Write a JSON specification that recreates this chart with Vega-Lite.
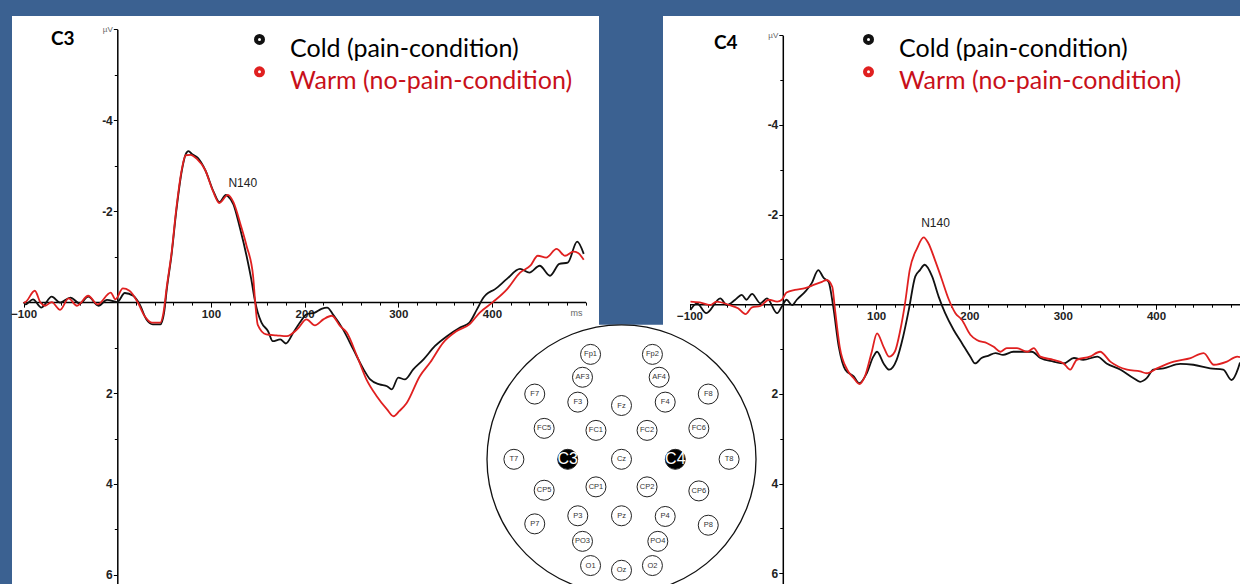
{
  "$schema": "https://vega.github.io/schema/vega-lite/v6.json",
  "background": "#3b6191",
  "padding": {"left": 10, "top": 16, "right": 0, "bottom": 0},
  "bounds": "flush",
  "spacing": 64,
  "config": {"view": {"stroke": null, "fill": "#ffffff"}, "font": "Liberation Sans"},
  "datasets": {
    "c3": [
      {"condition":"Cold (pain-condition)","t":-100,"v":0},{"condition":"Cold (pain-condition)","t":-98,"v":0.05},{"condition":"Cold (pain-condition)","t":-90,"v":-0.06},{"condition":"Cold (pain-condition)","t":-81,"v":0.12},{"condition":"Cold (pain-condition)","t":-70,"v":-0.12},{"condition":"Cold (pain-condition)","t":-61,"v":0.01},{"condition":"Cold (pain-condition)","t":-50,"v":-0.1},{"condition":"Cold (pain-condition)","t":-40,"v":0.03},{"condition":"Cold (pain-condition)","t":-31,"v":-0.12},{"condition":"Cold (pain-condition)","t":-20,"v":0.08},{"condition":"Cold (pain-condition)","t":-11,"v":-0.05},{"condition":"Cold (pain-condition)","t":0,"v":0},{"condition":"Cold (pain-condition)","t":8,"v":-0.2},{"condition":"Cold (pain-condition)","t":17,"v":-0.14},{"condition":"Cold (pain-condition)","t":24,"v":0.05},{"condition":"Cold (pain-condition)","t":31,"v":0.38},{"condition":"Cold (pain-condition)","t":38,"v":0.49},{"condition":"Cold (pain-condition)","t":46,"v":0.49},{"condition":"Cold (pain-condition)","t":50,"v":0.23},{"condition":"Cold (pain-condition)","t":53,"v":-0.3},{"condition":"Cold (pain-condition)","t":58,"v":-1.05},{"condition":"Cold (pain-condition)","t":63,"v":-2.0},{"condition":"Cold (pain-condition)","t":69,"v":-2.9},{"condition":"Cold (pain-condition)","t":73,"v":-3.25},{"condition":"Cold (pain-condition)","t":76,"v":-3.32},{"condition":"Cold (pain-condition)","t":80,"v":-3.25},{"condition":"Cold (pain-condition)","t":86,"v":-3.17},{"condition":"Cold (pain-condition)","t":94,"v":-2.9},{"condition":"Cold (pain-condition)","t":103,"v":-2.42},{"condition":"Cold (pain-condition)","t":109,"v":-2.2},{"condition":"Cold (pain-condition)","t":116,"v":-2.36},{"condition":"Cold (pain-condition)","t":118,"v":-2.33},{"condition":"Cold (pain-condition)","t":124,"v":-2.15},{"condition":"Cold (pain-condition)","t":131,"v":-1.63},{"condition":"Cold (pain-condition)","t":138,"v":-1.02},{"condition":"Cold (pain-condition)","t":143,"v":-0.51},{"condition":"Cold (pain-condition)","t":147,"v":-0.03},{"condition":"Cold (pain-condition)","t":150,"v":0.23},{"condition":"Cold (pain-condition)","t":154,"v":0.45},{"condition":"Cold (pain-condition)","t":161,"v":0.64},{"condition":"Cold (pain-condition)","t":166,"v":0.86},{"condition":"Cold (pain-condition)","t":174,"v":0.82},{"condition":"Cold (pain-condition)","t":180,"v":0.91},{"condition":"Cold (pain-condition)","t":188,"v":0.67},{"condition":"Cold (pain-condition)","t":195,"v":0.45},{"condition":"Cold (pain-condition)","t":202,"v":0.27},{"condition":"Cold (pain-condition)","t":211,"v":0.23},{"condition":"Cold (pain-condition)","t":218,"v":0.15},{"condition":"Cold (pain-condition)","t":224,"v":0.12},{"condition":"Cold (pain-condition)","t":231,"v":0.29},{"condition":"Cold (pain-condition)","t":241,"v":0.6},{"condition":"Cold (pain-condition)","t":252,"v":1.04},{"condition":"Cold (pain-condition)","t":263,"v":1.48},{"condition":"Cold (pain-condition)","t":270,"v":1.7},{"condition":"Cold (pain-condition)","t":280,"v":1.81},{"condition":"Cold (pain-condition)","t":288,"v":1.85},{"condition":"Cold (pain-condition)","t":293,"v":1.92},{"condition":"Cold (pain-condition)","t":300,"v":1.66},{"condition":"Cold (pain-condition)","t":307,"v":1.7},{"condition":"Cold (pain-condition)","t":316,"v":1.48},{"condition":"Cold (pain-condition)","t":327,"v":1.26},{"condition":"Cold (pain-condition)","t":339,"v":0.97},{"condition":"Cold (pain-condition)","t":352,"v":0.75},{"condition":"Cold (pain-condition)","t":366,"v":0.56},{"condition":"Cold (pain-condition)","t":376,"v":0.45},{"condition":"Cold (pain-condition)","t":384,"v":0.16},{"condition":"Cold (pain-condition)","t":391,"v":-0.1},{"condition":"Cold (pain-condition)","t":394,"v":-0.17},{"condition":"Cold (pain-condition)","t":403,"v":-0.28},{"condition":"Cold (pain-condition)","t":416,"v":-0.51},{"condition":"Cold (pain-condition)","t":430,"v":-0.73},{"condition":"Cold (pain-condition)","t":440,"v":-0.65},{"condition":"Cold (pain-condition)","t":451,"v":-0.8},{"condition":"Cold (pain-condition)","t":462,"v":-0.58},{"condition":"Cold (pain-condition)","t":472,"v":-0.84},{"condition":"Cold (pain-condition)","t":481,"v":-0.87},{"condition":"Cold (pain-condition)","t":491,"v":-1.33},{"condition":"Cold (pain-condition)","t":498,"v":-1.06},
      {"condition":"Warm (no-pain-condition)","t":-100,"v":0},{"condition":"Warm (no-pain-condition)","t":-99,"v":0.01},{"condition":"Warm (no-pain-condition)","t":-88,"v":-0.25},{"condition":"Warm (no-pain-condition)","t":-82,"v":0.01},{"condition":"Warm (no-pain-condition)","t":-77,"v":0.08},{"condition":"Warm (no-pain-condition)","t":-70,"v":0},{"condition":"Warm (no-pain-condition)","t":-61,"v":0.17},{"condition":"Warm (no-pain-condition)","t":-52,"v":-0.08},{"condition":"Warm (no-pain-condition)","t":-43,"v":0.08},{"condition":"Warm (no-pain-condition)","t":-31,"v":-0.14},{"condition":"Warm (no-pain-condition)","t":-21,"v":0.05},{"condition":"Warm (no-pain-condition)","t":-7,"v":-0.21},{"condition":"Warm (no-pain-condition)","t":-2,"v":-0.06},{"condition":"Warm (no-pain-condition)","t":6,"v":-0.3},{"condition":"Warm (no-pain-condition)","t":13,"v":-0.25},{"condition":"Warm (no-pain-condition)","t":22,"v":0.01},{"condition":"Warm (no-pain-condition)","t":29,"v":0.3},{"condition":"Warm (no-pain-condition)","t":37,"v":0.45},{"condition":"Warm (no-pain-condition)","t":46,"v":0.45},{"condition":"Warm (no-pain-condition)","t":49,"v":0.27},{"condition":"Warm (no-pain-condition)","t":53,"v":-0.36},{"condition":"Warm (no-pain-condition)","t":58,"v":-1.09},{"condition":"Warm (no-pain-condition)","t":63,"v":-2.05},{"condition":"Warm (no-pain-condition)","t":69,"v":-2.93},{"condition":"Warm (no-pain-condition)","t":73,"v":-3.23},{"condition":"Warm (no-pain-condition)","t":78,"v":-3.24},{"condition":"Warm (no-pain-condition)","t":85,"v":-3.15},{"condition":"Warm (no-pain-condition)","t":94,"v":-2.9},{"condition":"Warm (no-pain-condition)","t":102,"v":-2.45},{"condition":"Warm (no-pain-condition)","t":109,"v":-2.18},{"condition":"Warm (no-pain-condition)","t":116,"v":-2.33},{"condition":"Warm (no-pain-condition)","t":118,"v":-2.36},{"condition":"Warm (no-pain-condition)","t":124,"v":-2.2},{"condition":"Warm (no-pain-condition)","t":132,"v":-1.68},{"condition":"Warm (no-pain-condition)","t":138,"v":-1.24},{"condition":"Warm (no-pain-condition)","t":145,"v":-0.58},{"condition":"Warm (no-pain-condition)","t":147,"v":-0.06},{"condition":"Warm (no-pain-condition)","t":150,"v":0.5},{"condition":"Warm (no-pain-condition)","t":159,"v":0.71},{"condition":"Warm (no-pain-condition)","t":170,"v":0.73},{"condition":"Warm (no-pain-condition)","t":181,"v":0.75},{"condition":"Warm (no-pain-condition)","t":192,"v":0.6},{"condition":"Warm (no-pain-condition)","t":202,"v":0.38},{"condition":"Warm (no-pain-condition)","t":211,"v":0.51},{"condition":"Warm (no-pain-condition)","t":220,"v":0.38},{"condition":"Warm (no-pain-condition)","t":229,"v":0.3},{"condition":"Warm (no-pain-condition)","t":238,"v":0.53},{"condition":"Warm (no-pain-condition)","t":245,"v":0.67},{"condition":"Warm (no-pain-condition)","t":256,"v":1.19},{"condition":"Warm (no-pain-condition)","t":266,"v":1.7},{"condition":"Warm (no-pain-condition)","t":277,"v":2.07},{"condition":"Warm (no-pain-condition)","t":288,"v":2.36},{"condition":"Warm (no-pain-condition)","t":295,"v":2.51},{"condition":"Warm (no-pain-condition)","t":301,"v":2.4},{"condition":"Warm (no-pain-condition)","t":309,"v":2.22},{"condition":"Warm (no-pain-condition)","t":323,"v":1.63},{"condition":"Warm (no-pain-condition)","t":334,"v":1.33},{"condition":"Warm (no-pain-condition)","t":348,"v":0.89},{"condition":"Warm (no-pain-condition)","t":362,"v":0.64},{"condition":"Warm (no-pain-condition)","t":376,"v":0.49},{"condition":"Warm (no-pain-condition)","t":387,"v":0.23},{"condition":"Warm (no-pain-condition)","t":401,"v":0},{"condition":"Warm (no-pain-condition)","t":416,"v":-0.28},{"condition":"Warm (no-pain-condition)","t":430,"v":-0.65},{"condition":"Warm (no-pain-condition)","t":441,"v":-0.8},{"condition":"Warm (no-pain-condition)","t":449,"v":-1.02},{"condition":"Warm (no-pain-condition)","t":458,"v":-0.98},{"condition":"Warm (no-pain-condition)","t":469,"v":-1.17},{"condition":"Warm (no-pain-condition)","t":478,"v":-1.02},{"condition":"Warm (no-pain-condition)","t":487,"v":-1.11},{"condition":"Warm (no-pain-condition)","t":492,"v":-1.08},{"condition":"Warm (no-pain-condition)","t":498,"v":-0.93}
    ],
    "c4": [
      {"condition":"Cold (pain-condition)","t":-99,"v":0.13},{"condition":"Cold (pain-condition)","t":-92,"v":-0.02},{"condition":"Cold (pain-condition)","t":-82,"v":0.2},{"condition":"Cold (pain-condition)","t":-67,"v":-0.13},{"condition":"Cold (pain-condition)","t":-60,"v":0.02},{"condition":"Cold (pain-condition)","t":-51,"v":-0.1},{"condition":"Cold (pain-condition)","t":-44,"v":-0.21},{"condition":"Cold (pain-condition)","t":-39,"v":-0.1},{"condition":"Cold (pain-condition)","t":-33,"v":-0.23},{"condition":"Cold (pain-condition)","t":-24,"v":-0.02},{"condition":"Cold (pain-condition)","t":-17,"v":-0.13},{"condition":"Cold (pain-condition)","t":-6,"v":0.2},{"condition":"Cold (pain-condition)","t":-1,"v":0.05},{"condition":"Cold (pain-condition)","t":4,"v":-0.1},{"condition":"Cold (pain-condition)","t":10,"v":0.02},{"condition":"Cold (pain-condition)","t":15,"v":-0.1},{"condition":"Cold (pain-condition)","t":24,"v":-0.28},{"condition":"Cold (pain-condition)","t":31,"v":-0.47},{"condition":"Cold (pain-condition)","t":38,"v":-0.76},{"condition":"Cold (pain-condition)","t":44,"v":-0.58},{"condition":"Cold (pain-condition)","t":49,"v":-0.5},{"condition":"Cold (pain-condition)","t":54,"v":0.05},{"condition":"Cold (pain-condition)","t":60,"v":0.95},{"condition":"Cold (pain-condition)","t":67,"v":1.46},{"condition":"Cold (pain-condition)","t":76,"v":1.61},{"condition":"Cold (pain-condition)","t":82,"v":1.76},{"condition":"Cold (pain-condition)","t":90,"v":1.54},{"condition":"Cold (pain-condition)","t":97,"v":1.17},{"condition":"Cold (pain-condition)","t":101,"v":1.06},{"condition":"Cold (pain-condition)","t":108,"v":1.32},{"condition":"Cold (pain-condition)","t":114,"v":1.46},{"condition":"Cold (pain-condition)","t":122,"v":1.24},{"condition":"Cold (pain-condition)","t":129,"v":0.72},{"condition":"Cold (pain-condition)","t":135,"v":0.13},{"condition":"Cold (pain-condition)","t":142,"v":-0.62},{"condition":"Cold (pain-condition)","t":147,"v":-0.76},{"condition":"Cold (pain-condition)","t":152,"v":-0.88},{"condition":"Cold (pain-condition)","t":160,"v":-0.62},{"condition":"Cold (pain-condition)","t":167,"v":-0.17},{"condition":"Cold (pain-condition)","t":174,"v":0.2},{"condition":"Cold (pain-condition)","t":183,"v":0.57},{"condition":"Cold (pain-condition)","t":192,"v":0.87},{"condition":"Cold (pain-condition)","t":201,"v":1.17},{"condition":"Cold (pain-condition)","t":206,"v":1.32},{"condition":"Cold (pain-condition)","t":213,"v":1.2},{"condition":"Cold (pain-condition)","t":220,"v":1.15},{"condition":"Cold (pain-condition)","t":228,"v":1.09},{"condition":"Cold (pain-condition)","t":236,"v":1.13},{"condition":"Cold (pain-condition)","t":247,"v":1.06},{"condition":"Cold (pain-condition)","t":258,"v":1.06},{"condition":"Cold (pain-condition)","t":267,"v":1.06},{"condition":"Cold (pain-condition)","t":276,"v":1.2},{"condition":"Cold (pain-condition)","t":290,"v":1.28},{"condition":"Cold (pain-condition)","t":301,"v":1.32},{"condition":"Cold (pain-condition)","t":312,"v":1.2},{"condition":"Cold (pain-condition)","t":322,"v":1.24},{"condition":"Cold (pain-condition)","t":337,"v":1.17},{"condition":"Cold (pain-condition)","t":347,"v":1.32},{"condition":"Cold (pain-condition)","t":362,"v":1.46},{"condition":"Cold (pain-condition)","t":376,"v":1.65},{"condition":"Cold (pain-condition)","t":383,"v":1.73},{"condition":"Cold (pain-condition)","t":390,"v":1.65},{"condition":"Cold (pain-condition)","t":397,"v":1.46},{"condition":"Cold (pain-condition)","t":408,"v":1.43},{"condition":"Cold (pain-condition)","t":426,"v":1.33},{"condition":"Cold (pain-condition)","t":440,"v":1.35},{"condition":"Cold (pain-condition)","t":458,"v":1.43},{"condition":"Cold (pain-condition)","t":472,"v":1.46},{"condition":"Cold (pain-condition)","t":481,"v":1.69},{"condition":"Cold (pain-condition)","t":488,"v":1.43},{"condition":"Cold (pain-condition)","t":490,"v":1.3},
      {"condition":"Warm (no-pain-condition)","t":-99,"v":-0.06},{"condition":"Warm (no-pain-condition)","t":-89,"v":-0.04},{"condition":"Warm (no-pain-condition)","t":-78,"v":0.02},{"condition":"Warm (no-pain-condition)","t":-71,"v":-0.06},{"condition":"Warm (no-pain-condition)","t":-57,"v":0.02},{"condition":"Warm (no-pain-condition)","t":-48,"v":0.09},{"condition":"Warm (no-pain-condition)","t":-40,"v":0.22},{"condition":"Warm (no-pain-condition)","t":-33,"v":0.07},{"condition":"Warm (no-pain-condition)","t":-24,"v":0.04},{"condition":"Warm (no-pain-condition)","t":-15,"v":-0.1},{"condition":"Warm (no-pain-condition)","t":-6,"v":-0.06},{"condition":"Warm (no-pain-condition)","t":-1,"v":-0.1},{"condition":"Warm (no-pain-condition)","t":4,"v":-0.26},{"condition":"Warm (no-pain-condition)","t":13,"v":-0.32},{"condition":"Warm (no-pain-condition)","t":24,"v":-0.36},{"condition":"Warm (no-pain-condition)","t":33,"v":-0.43},{"condition":"Warm (no-pain-condition)","t":42,"v":-0.5},{"condition":"Warm (no-pain-condition)","t":47,"v":-0.54},{"condition":"Warm (no-pain-condition)","t":53,"v":-0.39},{"condition":"Warm (no-pain-condition)","t":56,"v":0.13},{"condition":"Warm (no-pain-condition)","t":61,"v":0.95},{"condition":"Warm (no-pain-condition)","t":69,"v":1.46},{"condition":"Warm (no-pain-condition)","t":76,"v":1.65},{"condition":"Warm (no-pain-condition)","t":82,"v":1.78},{"condition":"Warm (no-pain-condition)","t":88,"v":1.61},{"condition":"Warm (no-pain-condition)","t":95,"v":1.09},{"condition":"Warm (no-pain-condition)","t":101,"v":0.65},{"condition":"Warm (no-pain-condition)","t":108,"v":0.95},{"condition":"Warm (no-pain-condition)","t":114,"v":1.17},{"condition":"Warm (no-pain-condition)","t":120,"v":1.06},{"condition":"Warm (no-pain-condition)","t":126,"v":0.57},{"condition":"Warm (no-pain-condition)","t":131,"v":-0.02},{"condition":"Warm (no-pain-condition)","t":136,"v":-0.76},{"condition":"Warm (no-pain-condition)","t":144,"v":-1.25},{"condition":"Warm (no-pain-condition)","t":151,"v":-1.49},{"condition":"Warm (no-pain-condition)","t":156,"v":-1.36},{"condition":"Warm (no-pain-condition)","t":163,"v":-0.99},{"condition":"Warm (no-pain-condition)","t":170,"v":-0.58},{"condition":"Warm (no-pain-condition)","t":178,"v":-0.1},{"condition":"Warm (no-pain-condition)","t":185,"v":0.2},{"condition":"Warm (no-pain-condition)","t":192,"v":0.35},{"condition":"Warm (no-pain-condition)","t":201,"v":0.68},{"condition":"Warm (no-pain-condition)","t":208,"v":0.8},{"condition":"Warm (no-pain-condition)","t":219,"v":0.87},{"condition":"Warm (no-pain-condition)","t":226,"v":0.95},{"condition":"Warm (no-pain-condition)","t":233,"v":1.06},{"condition":"Warm (no-pain-condition)","t":240,"v":0.98},{"condition":"Warm (no-pain-condition)","t":251,"v":0.98},{"condition":"Warm (no-pain-condition)","t":262,"v":1.06},{"condition":"Warm (no-pain-condition)","t":269,"v":0.98},{"condition":"Warm (no-pain-condition)","t":276,"v":1.17},{"condition":"Warm (no-pain-condition)","t":290,"v":1.24},{"condition":"Warm (no-pain-condition)","t":301,"v":1.32},{"condition":"Warm (no-pain-condition)","t":308,"v":1.46},{"condition":"Warm (no-pain-condition)","t":315,"v":1.24},{"condition":"Warm (no-pain-condition)","t":329,"v":1.17},{"condition":"Warm (no-pain-condition)","t":340,"v":1.06},{"condition":"Warm (no-pain-condition)","t":351,"v":1.28},{"condition":"Warm (no-pain-condition)","t":369,"v":1.46},{"condition":"Warm (no-pain-condition)","t":383,"v":1.5},{"condition":"Warm (no-pain-condition)","t":390,"v":1.54},{"condition":"Warm (no-pain-condition)","t":401,"v":1.43},{"condition":"Warm (no-pain-condition)","t":419,"v":1.28},{"condition":"Warm (no-pain-condition)","t":437,"v":1.2},{"condition":"Warm (no-pain-condition)","t":451,"v":1.09},{"condition":"Warm (no-pain-condition)","t":462,"v":1.35},{"condition":"Warm (no-pain-condition)","t":476,"v":1.28},{"condition":"Warm (no-pain-condition)","t":487,"v":1.17},{"condition":"Warm (no-pain-condition)","t":490,"v":1.18}
    ],
    "electrodes": [
      {"name":"Fp1","x":-0.23,"y":0.78,"active":false},{"name":"Fp2","x":0.23,"y":0.78,"active":false},
      {"name":"AF3","x":-0.29,"y":0.61,"active":false},{"name":"AF4","x":0.28,"y":0.61,"active":false},
      {"name":"F7","x":-0.645,"y":0.485,"active":false},{"name":"F3","x":-0.325,"y":0.425,"active":false},{"name":"Fz","x":0,"y":0.4,"active":false},{"name":"F4","x":0.325,"y":0.425,"active":false},{"name":"F8","x":0.645,"y":0.485,"active":false},
      {"name":"FC5","x":-0.575,"y":0.23,"active":false},{"name":"FC1","x":-0.19,"y":0.215,"active":false},{"name":"FC2","x":0.19,"y":0.215,"active":false},{"name":"FC6","x":0.575,"y":0.23,"active":false},
      {"name":"T7","x":-0.8,"y":0,"active":false},{"name":"C3","x":-0.4,"y":0,"active":true},{"name":"Cz","x":0,"y":0,"active":false},{"name":"C4","x":0.4,"y":0,"active":true},{"name":"T8","x":0.8,"y":0,"active":false},
      {"name":"CP5","x":-0.575,"y":-0.23,"active":false},{"name":"CP1","x":-0.19,"y":-0.205,"active":false},{"name":"CP2","x":0.19,"y":-0.205,"active":false},{"name":"CP6","x":0.575,"y":-0.235,"active":false},
      {"name":"P7","x":-0.645,"y":-0.48,"active":false},{"name":"P3","x":-0.325,"y":-0.42,"active":false},{"name":"Pz","x":0,"y":-0.42,"active":false},{"name":"P4","x":0.325,"y":-0.425,"active":false},{"name":"P8","x":0.645,"y":-0.49,"active":false},
      {"name":"PO3","x":-0.29,"y":-0.61,"active":false},{"name":"PO4","x":0.27,"y":-0.61,"active":false},
      {"name":"O1","x":-0.23,"y":-0.79,"active":false},{"name":"Oz","x":0,"y":-0.825,"active":false},{"name":"O2","x":0.23,"y":-0.79,"active":false}
    ]
  },
  "resolve": {"scale": {"color": "independent"}, "legend": {"color": "independent"}},
  "hconcat": [
    {
      "width": 587,
      "height": 568,
      "title": {"text": "C3", "anchor": "start", "frame": "group", "orient": "top", "offset": 0, "dx": 39, "dy": 48, "baseline": "alphabetic", "font": "Lato", "fontSize": 19, "fontWeight": "bold", "color": "#000000"},
      "layer": [
        {
          "data": {"name": "c3"},
          "mark": {"type": "line", "strokeWidth": 1.8, "interpolate": "monotone"},
          "encoding": {
            "x": {"field": "t", "type": "quantitative",
              "scale": {"domain": [-100, 500], "range": [11.6, 573.6], "nice": false, "zero": false},
              "axis": {"orient": "bottom", "offset": -281.9, "values": [-100, 100, 200, 300, 400],
                "domainColor": "#000000", "domainWidth": 1.5, "tickColor": "#000000", "tickSize": 5, "tickWidth": 1,
                "labelFont": "Liberation Sans", "labelFontSize": 11.5, "labelFontWeight": "bold", "labelColor": "#222222", "labelPadding": 1, "labelFlush": false, "labelOverlap": false, "grid": false,
                "title": "ms", "titleX": 564, "titleY": 10.6, "titleFontSize": 9, "titleFontWeight": "normal", "titleColor": "#666666", "titleAlign": "center", "titleBaseline": "middle", "titleAngle": 0}},
            "y": {"field": "v", "type": "quantitative",
              "scale": {"domain": [-6, 6.2], "range": [13.3, 568], "nice": false, "zero": false},
              "axis": {"orient": "left", "offset": -105.3, "values": [-6, -4, -2, 2, 4, 6],
                "labelExpr": "datum.value == -6 ? 'µV' : '' + datum.value",
                "labelFontSize": {"condition": {"test": "datum.value == -6", "value": 8}, "value": 12},
                "labelFontWeight": {"condition": {"test": "datum.value == -6", "value": "normal"}, "value": "bold"},
                "labelColor": {"condition": {"test": "datum.value == -6", "value": "#666666"}, "value": "#222222"},
                "domainColor": "#000000", "domainWidth": 1.5, "tickColor": "#000000", "tickSize": 4, "tickWidth": 1,
                "labelFont": "Liberation Sans", "labelPadding": 1, "labelOverlap": false, "labelFlush": false, "grid": false, "title": null}},
            "color": {"field": "condition", "type": "nominal",
              "scale": {"domain": ["Cold (pain-condition)", "Warm (no-pain-condition)"], "range": ["#111111", "#e02020"]},
              "legend": {"orient": "none", "legendX": 234, "legendY": 19.3, "title": null, "padding": 0,
                "symbolType": "M -0.2 -0.94 A 0.2 0.2 0 1 0 0.2 -0.94 A 0.2 0.2 0 1 0 -0.2 -0.94 Z", "symbolSize": 400, "symbolStrokeWidth": 7,
                "labelFont": "Lato", "labelFontSize": 25, "labelOffset": 17, "labelBaseline": "middle", "labelLimit": 500,
                "labelColor": {"expr": "datum.label == 'Cold (pain-condition)' ? '#000000' : '#c8101a'"},
                "rowPadding": -6.6}}
          }
        },
        {
          "data": {"values": [{"t": 134, "v": -2.62, "label": "N140"}]},
          "mark": {"type": "text", "font": "Liberation Sans", "fontSize": 12, "color": "#222222"},
          "encoding": {
            "x": {"field": "t", "type": "quantitative",
              "axis": {"orient": "bottom", "offset": -281.9, "values": [-80,-60,-40,-20,0,20,40,60,80,120,140,160,180,220,240,260,280,320,340,360,380,420,440,460,480,500],
                "labels": false, "domain": false, "tickColor": "#000000", "tickSize": 3, "tickWidth": 1, "grid": false, "title": null}},
            "y": {"field": "v", "type": "quantitative",
              "axis": {"orient": "left", "offset": -105.3, "values": [-5, -3, -1, 0, 1, 3, 5],
                "labels": false, "domain": false, "tickColor": "#000000", "tickSize": 3, "tickWidth": 1, "grid": false, "title": null}},
            "text": {"field": "label"}
          }
        }
      ],
      "resolve": {"axis": {"x": "independent", "y": "independent"}}
    },
    {
      "width": 577,
      "height": 568,
      "title": {"text": "C4", "anchor": "start", "frame": "group", "orient": "top", "offset": 0, "dx": 51, "dy": 52, "baseline": "alphabetic", "font": "Lato", "fontSize": 19, "fontWeight": "bold", "color": "#000000"},
      "layer": [
        {
          "layer": [
            {
              "data": {"name": "c4"},
              "mark": {"type": "line", "strokeWidth": 1.8, "interpolate": "monotone"},
              "encoding": {
                "x": {"field": "t", "type": "quantitative",
                  "scale": {"domain": [-100, 490], "range": [26.5, 577], "nice": false, "zero": false},
                  "axis": {"orient": "bottom", "offset": -279.8, "values": [-100, 100, 200, 300, 400],
                    "domainColor": "#000000", "domainWidth": 1.5, "tickColor": "#000000", "tickSize": 5, "tickWidth": 1,
                    "labelFont": "Liberation Sans", "labelFontSize": 11.5, "labelFontWeight": "bold", "labelColor": "#222222", "labelPadding": 1, "labelFlush": false, "labelOverlap": false, "grid": false, "title": null}},
                "y": {"field": "v", "type": "quantitative",
                  "scale": {"domain": [-6, 6.24], "range": [19.2, 568], "nice": false, "zero": false},
                  "axis": {"orient": "left", "offset": -119.8, "values": [-6, -4, -2, 2, 4, 6],
                    "labelExpr": "datum.value == -6 ? 'µV' : '' + datum.value",
                    "labelFontSize": {"condition": {"test": "datum.value == -6", "value": 8}, "value": 12},
                    "labelFontWeight": {"condition": {"test": "datum.value == -6", "value": "normal"}, "value": "bold"},
                    "labelColor": {"condition": {"test": "datum.value == -6", "value": "#666666"}, "value": "#222222"},
                    "domainColor": "#000000", "domainWidth": 1.5, "tickColor": "#000000", "tickSize": 4, "tickWidth": 1,
                    "labelFont": "Liberation Sans", "labelPadding": 1, "labelOverlap": false, "labelFlush": false, "grid": false, "title": null}},
                "color": {"field": "condition", "type": "nominal",
                  "scale": {"domain": ["Cold (pain-condition)", "Warm (no-pain-condition)"], "range": ["#111111", "#e02020"]},
                  "legend": {"orient": "none", "legendX": 192, "legendY": 19.3, "title": null, "padding": 0,
                    "symbolType": "M -0.2 -0.94 A 0.2 0.2 0 1 0 0.2 -0.94 A 0.2 0.2 0 1 0 -0.2 -0.94 Z", "symbolSize": 400, "symbolStrokeWidth": 7,
                    "labelFont": "Lato", "labelFontSize": 25, "labelOffset": 17, "labelBaseline": "middle", "labelLimit": 500,
                    "labelColor": {"expr": "datum.label == 'Cold (pain-condition)' ? '#000000' : '#c8101a'"},
                    "rowPadding": -6.6}}
              }
            },
            {
              "data": {"values": [{"t": 163.7, "v": -1.81, "label": "N140"}]},
              "mark": {"type": "text", "font": "Liberation Sans", "fontSize": 12, "color": "#222222"},
              "encoding": {
                "x": {"field": "t", "type": "quantitative",
                  "axis": {"orient": "bottom", "offset": -279.8, "values": [-80,-60,-40,-20,0,20,40,60,80,120,140,160,180,220,240,260,280,320,340,360,380,420,440,460,480],
                    "labels": false, "domain": false, "tickColor": "#000000", "tickSize": 3, "tickWidth": 1, "grid": false, "title": null}},
                "y": {"field": "v", "type": "quantitative",
                  "axis": {"orient": "left", "offset": -119.8, "values": [-5, -3, -1, 0, 1, 3, 5],
                    "labels": false, "domain": false, "tickColor": "#000000", "tickSize": 3, "tickWidth": 1, "grid": false, "title": null}},
                "text": {"field": "label"}
              }
            }
          ],
          "resolve": {"axis": {"x": "independent", "y": "independent"}}
        },
        {
          "layer": [
            {
              "data": {"values": [{"name": "head"}]},
              "mark": {"type": "rect", "color": "#ffffff"},
              "encoding": {
                "x": {"datum": -1, "type": "quantitative", "scale": {"domain": [-1, 1], "range": [-176, 93], "nice": false, "zero": false}, "axis": null},
                "x2": {"datum": 1},
                "y": {"datum": -1, "type": "quantitative", "scale": {"domain": [-1, 1], "range": [577.8, 308.8], "nice": false, "zero": false}, "axis": null},
                "y2": {"datum": 1}
              }
            },
            {
              "data": {"values": [{"name": "head", "x": 0, "y": 0}]},
              "mark": {"type": "point", "shape": "circle", "size": 72361, "filled": true, "fill": "#ffffff", "stroke": "#111111", "strokeWidth": 1.3, "opacity": 1},
              "encoding": {
                "x": {"field": "x", "type": "quantitative", "axis": null},
                "y": {"field": "y", "type": "quantitative", "axis": null}
              }
            },
            {
              "data": {"name": "electrodes"},
              "mark": {"type": "point", "shape": "circle", "size": 400, "filled": true, "stroke": "#222222", "strokeWidth": 1, "opacity": 1},
              "encoding": {
                "x": {"field": "x", "type": "quantitative", "axis": null},
                "y": {"field": "y", "type": "quantitative", "axis": null},
                "fill": {"condition": {"test": "datum.active", "value": "#000000"}, "value": "#ffffff"}
              }
            },
            {
              "data": {"name": "electrodes"},
              "mark": {"type": "text", "font": "Liberation Sans"},
              "encoding": {
                "x": {"field": "x", "type": "quantitative", "axis": null},
                "y": {"field": "y", "type": "quantitative", "axis": null},
                "text": {"field": "name"},
                "size": {"condition": {"test": "datum.active", "value": 16}, "value": 7.5},
                "color": {"condition": {"test": "datum.active", "value": "#ffffff"}, "value": "#333333"}
              }
            }
          ]
        }
      ],
      "resolve": {"scale": {"x": "independent", "y": "independent"}}
    }
  ]
}
